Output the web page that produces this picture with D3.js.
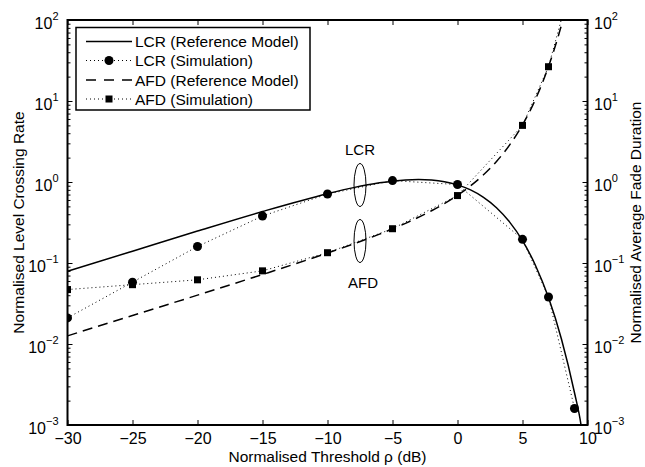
<!DOCTYPE html>
<html>
<head>
<meta charset="utf-8">
<script src="https://cdn.jsdelivr.net/npm/d3@7"></script>
<style>
  html, body { margin: 0; padding: 0; background: #fff; }
  svg { display: block; font-family: "Liberation Sans", Arial, Helvetica, sans-serif; }
</style>
</head>
<body>
<svg id="chart" width="645" height="467"></svg>
<script>
// ---- data ----
const xTicks = [-30, -25, -20, -15, -10, -5, 0, 5, 10];
const yTickExps = [-3, -2, -1, 0, 1, 2];

// LCR (Reference Model) – solid curve
const lcrRefX = [-30, -25, -20, -15, -10, -8, -6, -4, -3, -2, -1, 0, 1, 2, 3, 4, 5, 6, 7, 8, 9, 9.5, 9.6];
const lcrRefY = [0.079, 0.14, 0.248, 0.432, 0.717, 0.852, 0.977, 1.062, 1.075, 1.059, 1.009, 0.922, 0.798, 0.647, 0.482, 0.322, 0.189, 0.0933, 0.0374, 0.01145, 0.0025, 0.00101, 0.00078];

// LCR (Simulation) – circles, dotted
const lcrSimX = [-30, -25, -20, -15, -10, -5, 0, 5, 7, 9];
const lcrSimY = [0.021, 0.058, 0.16, 0.38, 0.71, 1.04, 0.93, 0.196, 0.038, 0.0016];

// AFD (Reference Model) – dashed curve
const afdRefX = [-30, -25, -20, -15, -10, -8, -6, -4, -2, 0, 1, 2, 3, 4, 5, 6, 7, 8, 8.2];
const afdRefY = [0.0126, 0.0225, 0.0401, 0.0721, 0.1327, 0.172, 0.227, 0.309, 0.442, 0.686, 0.897, 1.229, 1.793, 2.852, 5.075, 10.52, 26.6, 87.2, 115];

// AFD (Simulation) – squares, dotted
const afdSimX = [-30, -25, -20, -15, -10, -5, 0, 5, 7, 9];
const afdSimY = [0.047, 0.054, 0.062, 0.08, 0.134, 0.265, 0.68, 5.0, 26.5, 400];

const legendLabels = ["LCR (Reference Model)", "LCR (Simulation)", "AFD (Reference Model)", "AFD (Simulation)"];

// ---- layout ----
const svg = d3.select("#chart");
const L = 67.5, R = 587.5, T = 20, B = 425;
const x = d3.scaleLinear().domain([-30, 10]).range([L, R]);
const y = d3.scaleLog().domain([1e-3, 1e2]).range([B, T]);
const y2 = d3.scaleLog().domain([1e-3, 1e2]).range([B, T]);

svg.append("defs").append("clipPath").attr("id", "clip")
  .append("rect").attr("x", L).attr("y", T).attr("width", R - L).attr("height", B - T);

const plot = svg.append("g").attr("clip-path", "url(#clip)");

const zip = (xs, ys) => xs.map((v, i) => [v, ys[i]]);
const lineCurve = d3.line().x(d => x(d[0])).y(d => y(d[1])).curve(d3.curveMonotoneX);
const lineStraight = d3.line().x(d => x(d[0])).y(d => y(d[1]));

// simulation dotted lines
plot.append("path").attr("d", lineStraight(zip(lcrSimX, lcrSimY)))
  .attr("fill", "none").attr("stroke", "#000").attr("stroke-width", 1).attr("stroke-dasharray", "1,3");
plot.append("path").attr("d", lineStraight(zip(afdSimX, afdSimY)))
  .attr("fill", "none").attr("stroke", "#000").attr("stroke-width", 1).attr("stroke-dasharray", "1,3");

// reference curves
plot.append("path").attr("d", lineCurve(zip(lcrRefX, lcrRefY)))
  .attr("fill", "none").attr("stroke", "#000").attr("stroke-width", 1.5);
plot.append("path").attr("d", lineCurve(zip(afdRefX, afdRefY)))
  .attr("fill", "none").attr("stroke", "#000").attr("stroke-width", 1.5).attr("stroke-dasharray", "10,6");

// markers
plot.selectAll("circle.lcr").data(zip(lcrSimX, lcrSimY)).enter().append("circle")
  .attr("cx", d => x(d[0])).attr("cy", d => y(d[1])).attr("r", 4.5).attr("fill", "#000");
plot.selectAll("rect.afd").data(zip(afdSimX, afdSimY)).enter().append("rect")
  .attr("x", d => x(d[0]) - 3.5).attr("y", d => y(d[1]) - 3.5).attr("width", 7).attr("height", 7).attr("fill", "#000");

// ---- axes ----
const axes = svg.append("g");
const fmtSup = e => e < 0 ? "\u2212" + Math.abs(e) : String(e);
const minorVals = [];
for (let e = -3; e < 2; e++) for (let k = 2; k <= 9; k++) minorVals.push(k * Math.pow(10, e));

// bottom axis (inward ticks)
const xb = d3.axisBottom(x).tickValues(xTicks).tickSize(-5).tickPadding(8)
  .tickFormat(d => d < 0 ? "\u2212" + Math.abs(d) : String(d));
const gxb = axes.append("g").attr("transform", `translate(0,${B})`).call(xb);
// top axis
const xt = d3.axisTop(x).tickValues(xTicks).tickSize(-5).tickFormat("");
const gxt = axes.append("g").attr("transform", `translate(0,${T})`).call(xt);

// left axis
const yl = d3.axisLeft(y).tickValues(yTickExps.map(e => Math.pow(10, e))).tickSize(-5).tickFormat("");
const gyl = axes.append("g").attr("transform", `translate(${L},0)`).call(yl);
const ylm = d3.axisLeft(y).tickValues(minorVals).tickSize(-3).tickFormat("");
const gylm = axes.append("g").attr("transform", `translate(${L},0)`).call(ylm);
// right axis
const yr = d3.axisRight(y2).tickValues(yTickExps.map(e => Math.pow(10, e))).tickSize(-5).tickFormat("");
const gyr = axes.append("g").attr("transform", `translate(${R},0)`).call(yr);
const yrm = d3.axisRight(y2).tickValues(minorVals).tickSize(-3).tickFormat("");
const gyrm = axes.append("g").attr("transform", `translate(${R},0)`).call(yrm);

[gxb, gxt, gyl, gylm, gyr, gyrm].forEach(g => {
  g.select(".domain").remove();
  g.selectAll(".tick line").attr("stroke", "#000").attr("stroke-width", 1);
});
gxb.selectAll(".tick text").attr("font-size", 16).attr("fill", "#000")
  .attr("font-family", "Liberation Sans, Arial, sans-serif");

// log tick labels with superscripts
yTickExps.forEach(e => {
  const yy = y(Math.pow(10, e));
  const tl = axes.append("text").attr("x", L - 9).attr("y", yy + 8.5)
    .attr("text-anchor", "end").attr("font-size", 16).attr("fill", "#000");
  tl.append("tspan").text("10");
  tl.append("tspan").attr("dy", -9).attr("font-size", 11).text(fmtSup(e));
  const tr = axes.append("text").attr("x", R + 6.5).attr("y", yy + 8.5)
    .attr("text-anchor", "start").attr("font-size", 16).attr("fill", "#000");
  tr.append("tspan").text("10");
  tr.append("tspan").attr("dy", -9).attr("font-size", 11).text(fmtSup(e));
});

// frame
axes.append("rect").attr("x", L).attr("y", T).attr("width", R - L).attr("height", B - T)
  .attr("fill", "none").attr("stroke", "#000").attr("stroke-width", 2);

// axis titles
svg.append("text").attr("x", (L + R) / 2).attr("y", 462).attr("text-anchor", "middle")
  .attr("font-size", 15.5).text("Normalised Threshold \u03C1 (dB)");
svg.append("text").attr("transform", `translate(24,${(T + B) / 2}) rotate(-90)`)
  .attr("text-anchor", "middle").attr("font-size", 15.5).text("Normalised Level Crossing Rate");
svg.append("text").attr("transform", `translate(641,${(T + B) / 2}) rotate(-90)`)
  .attr("text-anchor", "middle").attr("font-size", 15.5).text("Normalised Average Fade Duration");

// annotations
const annX = x(-7.5);
svg.append("ellipse").attr("cx", annX).attr("cy", 185).attr("rx", 6).attr("ry", 21.5)
  .attr("fill", "none").attr("stroke", "#000").attr("stroke-width", 1);
svg.append("ellipse").attr("cx", annX).attr("cy", 241).attr("rx", 6).attr("ry", 21.5)
  .attr("fill", "none").attr("stroke", "#000").attr("stroke-width", 1);
svg.append("text").attr("x", annX).attr("y", 154.5).attr("text-anchor", "middle").attr("font-size", 15).text("LCR");
svg.append("text").attr("x", annX + 3).attr("y", 287.5).attr("text-anchor", "middle").attr("font-size", 15).text("AFD");

// legend
const lg = svg.append("g");
lg.append("rect").attr("x", 76).attr("y", 27.5).attr("width", 234).attr("height", 82.5)
  .attr("fill", "#fff").attr("stroke", "#000").attr("stroke-width", 1.5);
const rowY = [41.5, 60.5, 80, 99];
const sx0 = 86, sx1 = 132;
// row 0 solid
lg.append("line").attr("x1", sx0).attr("x2", sx1).attr("y1", rowY[0]).attr("y2", rowY[0])
  .attr("stroke", "#000").attr("stroke-width", 1.5);
// row 1 dotted + circle
lg.append("line").attr("x1", sx0).attr("x2", sx1).attr("y1", rowY[1]).attr("y2", rowY[1])
  .attr("stroke", "#000").attr("stroke-width", 1).attr("stroke-dasharray", "1,3");
lg.append("circle").attr("cx", (sx0 + sx1) / 2).attr("cy", rowY[1]).attr("r", 4.5).attr("fill", "#000");
// row 2 dashed
lg.append("line").attr("x1", sx0).attr("x2", sx1).attr("y1", rowY[2]).attr("y2", rowY[2])
  .attr("stroke", "#000").attr("stroke-width", 1.5).attr("stroke-dasharray", "10,8");
// row 3 dotted + square
lg.append("line").attr("x1", sx0).attr("x2", sx1).attr("y1", rowY[3]).attr("y2", rowY[3])
  .attr("stroke", "#000").attr("stroke-width", 1).attr("stroke-dasharray", "1,3");
lg.append("rect").attr("x", (sx0 + sx1) / 2 - 3.5).attr("y", rowY[3] - 3.5).attr("width", 7).attr("height", 7).attr("fill", "#000");
legendLabels.forEach((t, i) => {
  lg.append("text").attr("x", 135).attr("y", rowY[i] + 5.5).attr("font-size", 15.5).attr("fill", "#000").text(t);
});
</script>
</body>
</html>
